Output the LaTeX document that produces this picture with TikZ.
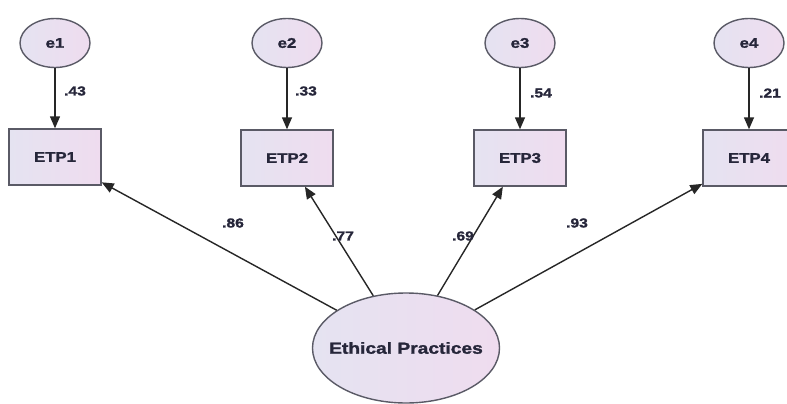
\documentclass[tikz,border=0pt]{standalone}
\usepackage{fontspec}
\setmainfont{Liberation Sans}
\newfontfamily\labfont[FakeStretch=1.2,FakeBold=1.5]{Liberation Sans Bold}
\usetikzlibrary{shapes.geometric,arrows.meta}
\definecolor{fillL}{HTML}{E5E3F1}
\definecolor{fillR}{HTML}{EFDCEF}
\definecolor{edgegray}{HTML}{5A5A66}
\definecolor{txt}{HTML}{26263A}
\tikzset{
  latent/.style={ellipse,draw=edgegray,line width=1.4pt,left color=fillL,right color=fillR,inner sep=0pt,
     font=\labfont\fontsize{14}{14}\selectfont,text=txt},
  obsbox/.style={rectangle,draw=edgegray,line width=1.4pt,left color=fillL,right color=fillR,inner sep=0pt,
     minimum width=92pt,minimum height=56pt,font=\labfont\fontsize{14}{14}\selectfont,text=txt},
  errell/.style={latent,minimum width=70pt,minimum height=49pt},
  conn/.style={draw=black!85,line width=1.4pt,-{Triangle[length=12pt,width=10pt]}},
  coef/.style={font=\labfont\fontsize{13}{13}\selectfont,text=txt,inner sep=0pt}
}
\begin{document}
\begin{tikzpicture}[x=1pt,y=-1pt]
\useasboundingbox[fill=white] (0,0) rectangle (787,404);
% error terms
\node[errell] (e1) at (55,43) {e1};
\node[errell] (e2) at (287,43) {e2};
\node[errell] (e3) at (520,43) {e3};
\node[errell] (e4) at (749,43) {e4};
% indicators
\node[obsbox] (t1) at (55,157) {ETP1};
\node[obsbox] (t2) at (287,158) {ETP2};
\node[obsbox] (t3) at (520,158) {ETP3};
\node[obsbox] (t4) at (749,158) {ETP4};
% latent factor
\node[latent,minimum width=187pt,minimum height=110pt,
  label={[font=\labfont\fontsize{16}{16}\selectfont,text=txt,inner sep=0pt]center:Ethical Practices}] (ep) at (406,348) {};
% error arrows
\draw[conn] (e1) -- (t1);
\draw[conn] (e2) -- (t2);
\draw[conn] (e3) -- (t3);
\draw[conn] (e4) -- (t4);
% loadings
\draw[conn] (ep) -- (t1);
\draw[conn] (ep) -- (t2);
\draw[conn] (ep) -- (t3);
\draw[conn] (ep) -- (t4);
% coefficient labels
\node[coef] (c1) at (75,91) {.43};
\node[coef] (c2) at (306,91) {.33};
\node[coef] (c3) at (541,93) {.54};
\node[coef] (c4) at (770,93) {.21};
\node[coef] (l1) at (233,223) {.86};
\node[coef] (l2) at (343,236) {.77};
\node[coef] (l3) at (463,236) {.69};
\node[coef] (l4) at (577,223) {.93};
\end{tikzpicture}
\end{document}
